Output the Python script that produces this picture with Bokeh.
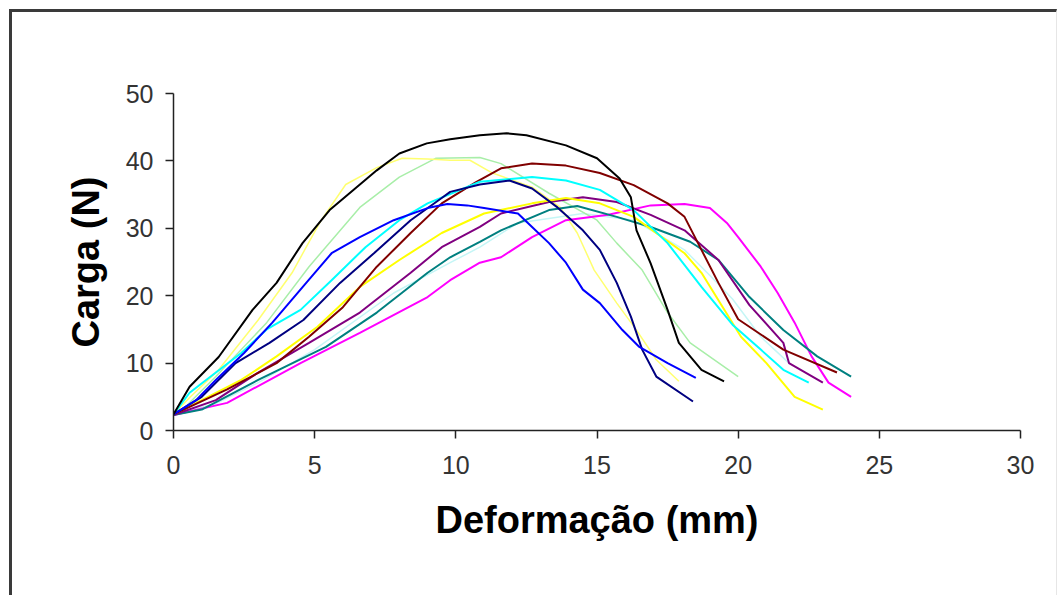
from bokeh.plotting import figure
from bokeh.models import FixedTicker, Range1d, InlineStyleSheet
from bokeh.embed import file_html
from bokeh.resources import INLINE

# ---- data (Deformação mm, Carga N) ----
black_x = [0, 0.57, 1.6, 2.8, 3.65, 4.57, 5.53, 6.35, 7.2, 8.0, 8.97, 9.8, 10.85, 11.8, 12.5, 13.9, 15.0, 15.8, 16.2, 16.4, 16.9, 17.5, 17.9, 18.7, 19.5]
black_y = [2.4, 6.5, 10.9, 17.9, 21.9, 27.8, 32.7, 35.6, 38.6, 41.1, 42.6, 43.2, 43.8, 44.1, 43.8, 42.3, 40.4, 37.4, 34.6, 29.7, 24.8, 17.9, 13.0, 9.0, 7.3]

lyellow_x = [0, 0.6, 1.6, 3.0, 4.2, 5.2, 6.1, 7.2, 8.1, 9.0, 9.8, 10.5, 11.3, 12.7, 13.7, 14.3, 14.9, 15.7, 16.4, 17.1, 17.9]
lyellow_y = [2.4, 5.0, 9.0, 16.4, 23.4, 31.0, 36.5, 39.0, 40.4, 40.3, 40.1, 40.1, 38.2, 36.1, 33.1, 29.3, 23.8, 18.9, 14.9, 10.5, 7.3]

lgreen_x = [0.3, 1.5, 3.3, 4.8, 6.6, 8.0, 9.3, 10.85, 11.6, 13.3, 15.0, 15.7, 16.6, 17.5, 18.3, 20.0]
lgreen_y = [3.0, 8.0, 16.0, 24.3, 33.1, 37.6, 40.4, 40.5, 39.6, 35.2, 31.2, 27.8, 23.8, 17.5, 13.0, 8.0]

blue_x = [0, 0.8, 1.5, 2.5, 3.5, 4.7, 5.6, 6.6, 7.8, 9.0, 9.7, 10.4, 11.0, 12.2, 12.7, 13.3, 13.9, 14.5, 15.1, 15.9, 16.5, 17.5, 18.5]
blue_y = [2.4, 4.5, 7.5, 11.5, 16.0, 21.9, 26.3, 28.7, 31.2, 33.0, 33.6, 33.4, 33.0, 32.2, 30.2, 27.8, 24.9, 20.9, 18.9, 14.9, 12.4, 10.0, 7.8]

navy_x = [0, 1.0, 2.2, 3.4, 4.6, 5.9, 7.1, 8.4, 9.5, 9.8, 10.85, 11.9, 12.7, 13.6, 14.5, 15.1, 15.7, 16.2, 16.6, 17.1, 18.4]
navy_y = [2.4, 5.0, 10.0, 13.0, 16.4, 21.9, 26.3, 31.2, 34.5, 35.4, 36.5, 37.1, 35.9, 33.1, 29.7, 26.8, 21.9, 16.9, 12.0, 8.0, 4.3]

cyan_x = [0, 0.57, 1.5, 2.4, 3.3, 4.5, 5.6, 6.8, 8.0, 9.0, 10.85, 12.7, 13.9, 15.1, 16.3, 17.5, 18.7, 19.8, 20.8, 21.6, 22.5]
cyan_y = [2.4, 5.6, 8.6, 11.5, 15.0, 17.9, 22.3, 27.2, 31.2, 33.7, 36.9, 37.6, 37.1, 35.7, 32.7, 27.8, 21.3, 15.7, 12.0, 9.0, 7.1]

maroon_x = [0, 1.9, 3.65, 4.8, 6.0, 7.2, 8.4, 9.5, 10.7, 11.6, 12.7, 13.9, 15.1, 16.3, 17.5, 18.1, 18.7, 19.3, 20.0, 21.6, 23.5]
maroon_y = [2.4, 6.1, 10.0, 13.9, 18.3, 24.3, 29.3, 33.7, 36.8, 38.9, 39.6, 39.3, 38.2, 36.4, 33.7, 31.7, 26.8, 21.9, 16.5, 12.0, 8.6]

yellow_x = [0, 1.0, 2.4, 3.65, 5.1, 6.6, 8.0, 9.5, 11.0, 12.7, 13.9, 15.1, 16.3, 18.1, 18.7, 20.1, 21.0, 22.0, 23.0]
yellow_y = [2.4, 4.5, 7.5, 11.0, 15.4, 21.3, 25.3, 29.3, 32.2, 33.7, 34.5, 33.7, 31.7, 26.3, 23.4, 13.9, 10.0, 5.0, 3.1]

purple_x = [0, 1.5, 3.0, 4.8, 6.6, 8.4, 9.5, 10.85, 11.6, 13.3, 14.5, 15.7, 16.9, 18.1, 19.3, 20.4, 21.6, 21.8, 23.0]
purple_y = [2.3, 4.5, 8.6, 13.0, 17.5, 23.4, 27.2, 30.2, 32.2, 33.9, 34.6, 33.9, 32.0, 29.7, 25.3, 18.6, 13.0, 10.0, 7.1]

teal_x = [0, 1.0, 3.0, 5.4, 7.2, 9.0, 9.8, 10.85, 11.6, 13.3, 14.3, 15.7, 16.9, 18.3, 19.3, 20.4, 21.6, 22.8, 24.0]
teal_y = [2.3, 3.1, 7.5, 12.4, 17.5, 23.4, 25.7, 28.0, 29.7, 32.7, 33.3, 31.7, 30.2, 28.0, 25.3, 19.8, 14.9, 11.0, 8.0]

lcyan_x = [0, 1.5, 3.0, 5.0, 7.8, 9.8, 10.85, 12.2, 14.5, 16.3, 18.1, 19.0, 19.8, 20.8, 21.8]
lcyan_y = [2.3, 4.0, 7.1, 12.0, 20.4, 24.9, 27.2, 30.8, 32.2, 31.2, 26.8, 23.0, 19.5, 13.9, 10.0]

magenta_x = [0, 1.9, 4.5, 6.6, 9.0, 9.8, 10.85, 11.6, 12.7, 13.9, 15.4, 16.9, 18.1, 19.0, 19.6, 20.0, 20.8, 21.4, 22.0, 22.6, 23.2, 24.0]
magenta_y = [2.3, 4.1, 10.0, 14.5, 19.8, 22.3, 24.9, 25.7, 28.7, 31.2, 32.0, 33.4, 33.6, 33.0, 30.8, 28.7, 24.3, 20.4, 16.0, 11.0, 7.1, 5.0]

x_ticks = [0, 5, 10, 15, 20, 25, 30]
y_ticks = [0, 10, 20, 30, 40, 50]

series = [
    (lcyan_x, lcyan_y, "#C4F6F6", 1.5),
    (lgreen_x, lgreen_y, "#A8EEA8", 1.5),
    (lyellow_x, lyellow_y, "#FFFF70", 1.5),
    (magenta_x, magenta_y, "#FF00FF", 2),
    (teal_x, teal_y, "#008080", 2),
    (purple_x, purple_y, "#800080", 2),
    (yellow_x, yellow_y, "#FFFF00", 2),
    (maroon_x, maroon_y, "#800000", 2),
    (cyan_x, cyan_y, "#00FFFF", 2),
    (navy_x, navy_y, "#000080", 2),
    (blue_x, blue_y, "#0000FF", 2),
    (black_x, black_y, "#000000", 2),
]

frame_css = InlineStyleSheet(css="""
:host { position: relative; }
:host::after {
  content: "";
  position: absolute;
  left: 9px; top: 9px;
  width: 1048px; height: 600px;
  border-left: 3px solid #3a3a3a;
  border-top: 3px solid #3a3a3a;
  border-right: 1px solid #e6e6e6;
  box-sizing: border-box;
  pointer-events: none;
}
""")

p = figure(width=1063, height=595, output_backend="svg", toolbar_location=None,
           x_range=Range1d(0, 30), y_range=Range1d(0, 50),
           min_border_left=173, min_border_right=43, min_border_top=93, min_border_bottom=165,
           stylesheets=[frame_css])
p.outline_line_color = None
p.grid.visible = False
p.background_fill_color = "white"
p.border_fill_color = "white"

for xs, ys, c, w in series:
    p.line(xs, ys, line_color=c, line_width=w)

for ax in (p.xaxis[0], p.yaxis[0]):
    ax.axis_line_color = "#222222"
    ax.axis_line_width = 1.5
    ax.major_tick_line_color = "#222222"
    ax.major_tick_line_width = 1.5
    ax.major_tick_out = 8
    ax.major_tick_in = 0
    ax.minor_tick_line_color = None
    ax.major_label_text_font = "Liberation Sans"
    ax.major_label_text_font_size = "25px"
    ax.major_label_text_color = "#333333"
    ax.axis_label_text_font = "Liberation Sans"
    ax.axis_label_text_font_style = "bold"
    ax.axis_label_text_font_size = "38px"
    ax.axis_label_text_color = "#000000"

p.xaxis.ticker = FixedTicker(ticks=x_ticks)
p.yaxis.ticker = FixedTicker(ticks=y_ticks)
p.xaxis.axis_label = "Deformação (mm)"
p.yaxis.axis_label = "Carga (N)"
p.xaxis.major_label_standoff = 17
p.xaxis.axis_label_standoff = 22
p.yaxis.major_label_standoff = 12
p.yaxis.axis_label_standoff = 16

open("out.html", "w").write(file_html(p, INLINE))
